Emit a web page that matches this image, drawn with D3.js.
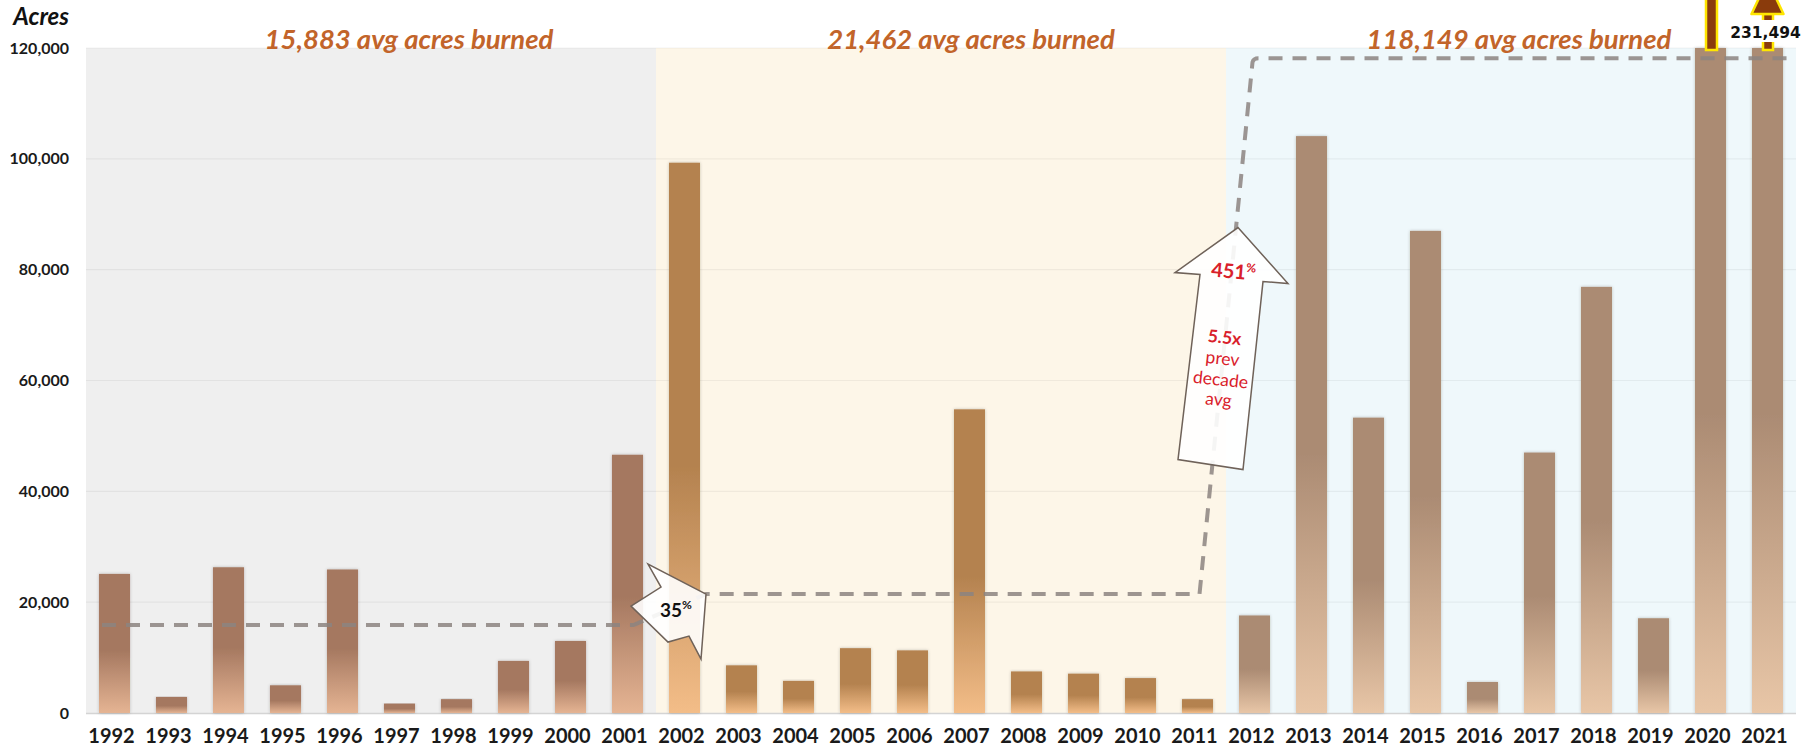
<!DOCTYPE html>
<html>
<head>
<meta charset="utf-8">
<script src="https://cdn.jsdelivr.net/npm/d3@7"></script>
<style>
  body { margin: 0; background: #fff; }
  svg { display: block; }
  text { font-family: Lato, "Open Sans", "DejaVu Sans", sans-serif; }
</style>
</head>
<body>
<svg id="chart" width="1816" height="753"></svg>
<script>
// ---- data -------------------------------------------------------------
const years = ["1992","1993","1994","1995","1996","1997","1998","1999","2000","2001",
               "2002","2003","2004","2005","2006","2007","2008","2009","2010","2011",
               "2012","2013","2014","2015","2016","2017","2018","2019","2020","2021"];
const acres = [25100, 2900, 26300, 5000, 25900, 1700, 2500, 9400, 13000, 46600,
               99300, 8600, 5800, 11700, 11300, 54800, 7500, 7100, 6300, 2500,
               17600, 104100, 53300, 87000, 5600, 47000, 76900, 17100, 541300, 231494];
const decadeFirst = ["1992", "2002", "2012"];
const decadeLast  = ["2001", "2011", "2021"];
const decadeAvg   = [15883, 21462, 118149];
const decadeTitles = ["15,883 avg acres burned", "21,462 avg acres burned", "118,149 avg acres burned"];
const yTicks = [0, 20000, 40000, 60000, 80000, 100000, 120000];
const changePct = ["35", "451"];
const changeNote = ["5.5x", "prev", "decade", "avg"];
const yTitle = "Acres";
const offChartValue = "231,494";

// ---- layout -----------------------------------------------------------
const plotL = 86, plotR = 1796, plotT = 48, plotB = 713;
const svg = d3.select("#chart");

const x = d3.scaleBand().domain(years).range([plotL, plotR])
  .paddingInner(0.456).paddingOuter(0.228);
const y = d3.scaleLinear().domain([0, 120000]).range([plotB, plotT]).clamp(true);
const bw = x.bandwidth(), step = x.step();
const cx = yr => x(yr) + bw / 2;

const bgColors = ["#efefef", "#fdf6e8", "#eff8fb"];
const barTop = ["#a57860", "#b4824f", "#ab8b73"];
const barBot = ["#e5b493", "#f3bd88", "#e8c6a7"];
const titleColor = "#c2642a";

// ---- defs: bar gradients, soft shadow ---------------------------------
const defs = svg.append("defs");
barTop.forEach((c, i) => {
  const g = defs.append("linearGradient").attr("id", "bar" + i)
    .attr("x1", 0).attr("y1", 0).attr("x2", 0).attr("y2", 1);
  g.append("stop").attr("offset", "0%").attr("stop-color", c);
  g.append("stop").attr("offset", "55%").attr("stop-color", c);
  g.append("stop").attr("offset", "100%").attr("stop-color", barBot[i]);
});
const sh = defs.append("filter").attr("id", "soft")
  .attr("x", "-30%").attr("y", "-5%").attr("width", "160%").attr("height", "110%");
sh.append("feDropShadow").attr("dx", 0).attr("dy", 0).attr("stdDeviation", 1.6)
  .attr("flood-color", "#000").attr("flood-opacity", 0.25);

// ---- decade backgrounds -----------------------------------------------
const decadeX0 = i => x(decadeFirst[i]) - (step - bw) / 2;
const decadeX1 = i => x(decadeLast[i]) + bw + (step - bw) / 2;
svg.append("g").selectAll("rect").data(decadeFirst).join("rect")
  .attr("x", (d, i) => decadeX0(i))
  .attr("y", y(120000))
  .attr("width", (d, i) => decadeX1(i) - decadeX0(i))
  .attr("height", y(0) - y(120000))
  .attr("fill", (d, i) => bgColors[i]);

// ---- gridlines + baseline ---------------------------------------------
svg.append("g").selectAll("line").data(yTicks.filter(v => v > 0)).join("line")
  .attr("x1", plotL).attr("x2", plotR)
  .attr("y1", d => y(d)).attr("y2", d => y(d))
  .attr("stroke", "#000").attr("stroke-opacity", 0.05).attr("stroke-width", 1.2);
svg.append("line").attr("x1", plotL).attr("x2", plotR)
  .attr("y1", y(0) + 0.5).attr("y2", y(0) + 0.5)
  .attr("stroke", "#d4d4d4").attr("stroke-width", 1.5);

// ---- bars -------------------------------------------------------------
svg.append("g").selectAll("rect").data(years).join("rect")
  .attr("x", d => x(d))
  .attr("y", (d, i) => y(acres[i]))
  .attr("width", bw)
  .attr("height", (d, i) => y(0) - y(acres[i]))
  .attr("fill", (d, i) => `url(#bar${Math.floor(i / 10)})`)
  .attr("filter", "url(#soft)");

// ---- decade average step line -----------------------------------------
const avgPath = d3.path();
avgPath.moveTo(x("1992") + 3, y(decadeAvg[0]));
avgPath.lineTo(cx("2001") + 6, y(decadeAvg[0]));
avgPath.lineTo(x("2002") + bw + 6, y(decadeAvg[1]));
avgPath.lineTo(cx("2011") + 2, y(decadeAvg[1]));
avgPath.lineTo(cx("2012") - 2, y(decadeAvg[2]) + 4);
avgPath.quadraticCurveTo(cx("2012") - 1, y(decadeAvg[2]), cx("2012") + 4, y(decadeAvg[2]));
avgPath.lineTo(x("2021") + bw + 8, y(decadeAvg[2]));
svg.append("path").attr("d", avgPath.toString())
  .attr("fill", "none").attr("stroke", "#8c8480").attr("stroke-width", 4)
  .attr("stroke-dasharray", "14,10").attr("stroke-opacity", 0.85);

// ---- off-chart arrows for 2020 / 2021 ---------------------------------
const arrowFill = "#8a3b0c", arrowEdge = "#ffe600";
// 2020: shaft running off the top
svg.append("rect")
  .attr("x", cx("2020") - 4.5).attr("y", -10)
  .attr("width", 11).attr("height", y(120000) + 12)
  .attr("fill", arrowFill).attr("stroke", arrowEdge).attr("stroke-width", 2.5);
// 2021: short shaft with head, value label over it
const a21 = cx("2021");
svg.append("rect")
  .attr("x", a21 - 4.5).attr("y", 14)
  .attr("width", 10).attr("height", y(120000) - 12)
  .attr("fill", arrowFill).attr("stroke", arrowEdge).attr("stroke-width", 2.5);
svg.append("path")
  .attr("d", `M${a21 - 16},${14} L${a21 + 16},${14} L${a21},${-20} Z`)
  .attr("fill", arrowFill).attr("stroke", arrowEdge).attr("stroke-width", 2.5)
  .attr("stroke-linejoin", "round");
svg.append("rect").attr("x", a21 - 38).attr("y", 20).attr("width", 74).attr("height", 22)
  .attr("fill", "#fff");
svg.append("text").attr("x", a21 - 2).attr("y", 38)
  .attr("text-anchor", "middle").attr("font-size", 15.5).attr("font-weight", 700)
  .style("font-family", "'DejaVu Sans', Verdana, sans-serif")
  .attr("fill", "#111").text(offChartValue);

// ---- change callout arrows --------------------------------------------
const arrowStyle = sel => sel.attr("fill", "#fff").attr("fill-opacity", 0.9)
  .attr("stroke", "#6f6259").attr("stroke-width", 1.5).attr("stroke-linejoin", "miter");

// 35%: tip at the start of the 2000s average
const t1x = x("2002") + bw + 6, t1y = y(decadeAvg[1]);
const shape1 = [[0, 0], [-58, -30], [-45, -7], [-75, 12], [-38, 48], [-17, 42], [-5, 65]];
arrowStyle(svg.append("path")
  .attr("d", d3.line()(shape1.map(p => [t1x + p[0], t1y + p[1]])) + "Z"));
const lbl1 = svg.append("text").attr("x", t1x - 30).attr("y", t1y + 23)
  .attr("text-anchor", "middle").attr("font-size", 19).attr("font-weight", 700).attr("fill", "#111");
lbl1.append("tspan").text(changePct[0]);
lbl1.append("tspan").attr("font-size", 12).attr("dy", -8).text("%");

// 451%: tall arrow across the 2011 -> 2012 jump
const t2x = x("2012") - 1, t2y = y(87600);
const shape2 = [[0, 0], [50, 56], [25, 54], [5, 242], [-60, 232], [-38, 47], [-63, 45]];
arrowStyle(svg.append("path")
  .attr("d", d3.line()(shape2.map(p => [t2x + p[0], t2y + p[1]])) + "Z"));
const red = "#d9202a";
const lbl2 = svg.append("text").attr("x", t2x - 5).attr("y", t2y + 51)
  .attr("transform", `rotate(5, ${t2x - 5}, ${t2y + 51})`)
  .attr("text-anchor", "middle").attr("fill", red)
  .attr("font-size", 20).attr("font-weight", 700);
lbl2.append("tspan").text(changePct[1]);
lbl2.append("tspan").attr("font-size", 12).attr("dy", -8).text("%");
const noteX = [-14, -16, -18, -20], noteY = [116, 137, 158, 178];
changeNote.forEach((t, i) => {
  const px = t2x + noteX[i], py = t2y + noteY[i];
  svg.append("text").attr("x", px).attr("y", py)
    .attr("transform", `rotate(6, ${px}, ${py})`)
    .attr("text-anchor", "middle").attr("fill", red)
    .attr("font-size", 17.5).attr("font-weight", i === 0 ? 700 : 400).text(t);
});

// ---- decade titles ----------------------------------------------------
const titleShift = [38, 30, 8];
svg.append("g").selectAll("text").data(decadeTitles).join("text")
  .attr("x", (d, i) => (decadeX0(i) + decadeX1(i)) / 2 + titleShift[i])
  .attr("y", plotT + 1)
  .attr("text-anchor", "middle")
  .attr("font-size", 27.5).attr("font-weight", 700).attr("font-style", "italic")
  .attr("fill", titleColor)
  .text(d => d);

// ---- axes -------------------------------------------------------------
const yAxis = svg.append("g").attr("transform", `translate(${plotL},0)`)
  .call(d3.axisLeft(y).tickValues(yTicks).tickFormat(d3.format(",")).tickSize(0).tickPadding(17));
yAxis.select(".domain").remove();
yAxis.selectAll("text").attr("font-size", 16).attr("font-weight", 700).attr("fill", "#1a1a1a");

const xAxis = svg.append("g").attr("transform", `translate(-3,${plotB})`)
  .call(d3.axisBottom(x).tickSize(0).tickPadding(16));
xAxis.select(".domain").remove();
xAxis.selectAll("text").attr("font-size", 20).attr("font-weight", 700).attr("fill", "#1a1a1a");

svg.append("text").attr("x", 69).attr("y", 25).attr("text-anchor", "end")
  .attr("font-size", 24).attr("font-weight", 700).attr("font-style", "italic")
  .attr("fill", "#111").text(yTitle);
</script>
</body>
</html>
